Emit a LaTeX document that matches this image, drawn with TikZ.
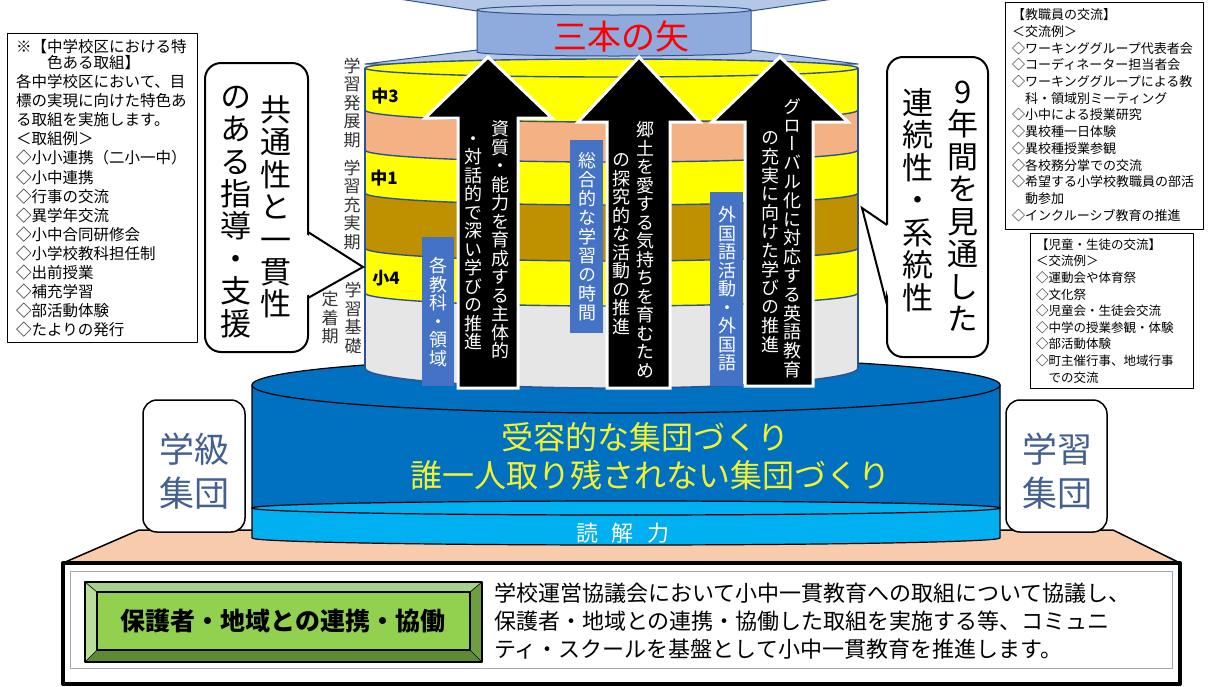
\documentclass[tikz,border=0pt]{standalone}
\usepackage{fontspec}
\setmainfont{Noto Sans CJK JP}
\newfontfamily\vjp[RawFeature=+vert]{Noto Sans CJK JP}
\definecolor{cyl}{HTML}{2F528F}
\definecolor{yel}{HTML}{FFFF00}
\definecolor{salm}{HTML}{F4B183}
\definecolor{brn}{HTML}{BF9000}
\definecolor{lgray}{HTML}{E7E6E6}
\definecolor{bbox}{HTML}{4472C4}
\definecolor{drum}{HTML}{8FAADC}
\definecolor{drumtop}{HTML}{B4C7E7}
\definecolor{dblue}{HTML}{0070C0}
\definecolor{lblue}{HTML}{00B0F0}
\definecolor{pinkb}{HTML}{F8CBAD}
\definecolor{grpc}{HTML}{44608F}
\definecolor{ytxt}{HTML}{F2F230}
\definecolor{labgray}{HTML}{333333}
\definecolor{bevT}{HTML}{A9D18E}
\definecolor{bevL}{HTML}{BBDD9A}
\definecolor{bevB}{HTML}{5E8A35}
\definecolor{bevR}{HTML}{6F9E40}
\definecolor{face}{HTML}{92D050}
\newdimen\vgap
\makeatletter
\def\vcol#1{\vbox{\offinterlineskip\vcol@#1\relax\unskip}}
\def\vcol@#1{\ifx#1\relax\else\hbox to 1em{\vrule height .88em depth .12em width 0pt\hss#1\hss}\vskip\vgap\relax\expandafter\vcol@\fi}
\makeatother
\newcommand\vt[2][1pt]{\vgap=#1\relax\vcol{#2}}
\begin{document}
\begin{tikzpicture}[x=1pt,y=-1pt,line join=round,
  vw/.style={inner sep=0pt,text=white,font=\vjp\fontsize{18}{18}\selectfont},
  vlab/.style={inner sep=0pt,text=labgray,font=\vjp\fontsize{17}{17}\selectfont},
  vbig/.style={inner sep=0pt,text=black,font=\vjp\fontsize{31}{31}\selectfont},
  layer/.style={inner sep=0pt,font=\bfseries\fontsize{17}{17}\selectfont},
  bluebox/.style={fill=bbox,draw=none},
  arrowshape/.style={fill=black,draw=white,line width=3pt,line join=miter},
  band/.style={draw=cyl,line width=1.4pt},
  listbox/.style={draw=black,line width=0.8pt,fill=white},
  listtxt/.style={anchor=north west,inner sep=0pt,align=left},
  grp/.style={fill=white,draw=black,line width=1.5pt,rounded corners=14pt},
  grptxt/.style={text=grpc,font=\fontsize{35}{35}\selectfont,inner sep=0pt},
  callout/.style={fill=white,draw=black,line width=2pt,rounded corners=16pt},
  bottxt/.style={anchor=west,inner sep=0pt,font=\fontsize{22}{22}\selectfont}
]
\useasboundingbox (0,0) rectangle (1208,686);
\fill[white] (0,0) rectangle (1208,686);

% platform
\filldraw[fill=pinkb,draw=black,line width=1.5pt] (139,530) -- (1113,530) -- (1180,563) -- (63,563) -- cycle;
\filldraw[fill=white,draw=black,line width=4pt] (63,563) rectangle (1180,684);
\draw[gray!70,line width=0.8pt] (70,571) rectangle (1172,668);

% green bevel box
\fill[bevT] (85,582) -- (482,582) -- (470,592) -- (97,592) -- cycle;
\fill[bevB] (85,662) -- (482,662) -- (470,650) -- (97,650) -- cycle;
\fill[bevL] (85,582) -- (97,592) -- (97,650) -- (85,662) -- cycle;
\fill[bevR] (482,582) -- (470,592) -- (470,650) -- (482,662) -- cycle;
\draw[black,line width=0.6pt] (85,582) -- (97,592) (482,582) -- (470,592) (85,662) -- (97,650) (482,662) -- (470,650);
\filldraw[fill=face,draw=black,line width=2pt] (97,592) rectangle (470,650);
\draw[black,line width=1.5pt] (85,582) rectangle (482,662);
\node[inner sep=0pt,font=\bfseries\fontsize{25}{25}\selectfont] (kyodo) at (283,621) {保護者・地域との連携・協働};

\node[bottxt] (d1) at (494,593) {学校運営協議会において小中一貫教育への取組について協議し、};
\node[bottxt] (d2) at (494,621) {保護者・地域との連携・協働した取組を実施する等、コミュニ};
\node[bottxt] (d3) at (494,649) {ティ・スクールを基盤として小中一貫教育を推進します。};

% blue cylinder
\filldraw[fill=dblue,draw=black,line width=1.2pt] (252,385) -- (252,508) arc[start angle=180,end angle=0,x radius=374,y radius=7] -- (1000,385) -- cycle;
\filldraw[fill=dblue,draw=black,line width=1.2pt] (626,385) ellipse[x radius=374,y radius=28];
\filldraw[fill=lblue,draw=black,line width=1.2pt] (252,508) -- (252,538) arc[start angle=180,end angle=0,x radius=374,y radius=7] -- (1000,508) -- cycle;
\filldraw[fill=lblue,draw=black,line width=1.2pt] (626,508) ellipse[x radius=374,y radius=7];
\node[inner sep=0pt,text=ytxt,font=\fontsize{32}{32}\selectfont] (juyou) at (645,437) {受容的な集団づくり};
\node[inner sep=0pt,text=ytxt,font=\fontsize{32}{32}\selectfont] (dare) at (650,475) {誰一人取り残されない集団づくり};
\node[inner sep=0pt,text=white,font=\fontsize{22}{22}\selectfont] (dokkai) at (623,533) {読\hspace{14pt}解\hspace{14pt}力};

% group boxes
\draw[grp] (143,400) rectangle (245,532);
\node[grptxt] (gk1) at (194,449) {学級};
\node[grptxt] (gk2) at (194,493) {集団};
\draw[grp] (1006,400) rectangle (1107,532);
\node[grptxt] (gs1) at (1057,449) {学習};
\node[grptxt] (gs2) at (1057,493) {集団};

% top funnel and drum
\filldraw[fill=drumtop,draw=cyl,line width=1pt] (386,-3) -- (847,-3) -- (751,11) -- (477,11) -- cycle;
\filldraw[fill=drumtop,draw=cyl,line width=1pt] (477,50) -- (751,50) -- (858,64) -- (365,64) -- cycle;
\filldraw[fill=drum,draw=cyl,line width=1pt] (477,10) -- (477,52) arc[start angle=180,end angle=0,x radius=137,y radius=4] -- (751,10) -- cycle;
\filldraw[fill=drumtop,draw=cyl,line width=1pt] (614,10) ellipse[x radius=137,y radius=5];
\node[inner sep=0pt,text=red,font=\fontsize{34}{34}\selectfont] (sanbon) at (621,37) {三本の矢};

% layered cylinder
\fill[lgray] (365,293) -- (365,368) arc[start angle=180,end angle=0,x radius=246.5,y radius=20] -- (858,293) -- cycle;
\fill[yel] (365,248) -- (365,293) arc[start angle=180,end angle=0,x radius=246.5,y radius=13] -- (858,248) -- cycle;
\fill[brn] (365,193) -- (365,248) arc[start angle=180,end angle=0,x radius=246.5,y radius=13] -- (858,193) -- cycle;
\fill[yel] (365,150) -- (365,193) arc[start angle=180,end angle=0,x radius=246.5,y radius=12] -- (858,150) -- cycle;
\fill[salm] (365,110) -- (365,150) arc[start angle=180,end angle=0,x radius=246.5,y radius=12] -- (858,110) -- cycle;
\fill[yel] (365,68) -- (365,110) arc[start angle=180,end angle=0,x radius=246.5,y radius=12] -- (858,68) -- cycle;
\draw[band] (365,110) arc[start angle=180,end angle=0,x radius=246.5,y radius=12];
\draw[band] (365,150) arc[start angle=180,end angle=0,x radius=246.5,y radius=12];
\draw[band] (365,193) arc[start angle=180,end angle=0,x radius=246.5,y radius=12];
\draw[band] (365,248) arc[start angle=180,end angle=0,x radius=246.5,y radius=13];
\draw[band] (365,293) arc[start angle=180,end angle=0,x radius=246.5,y radius=13];
\draw[band] (365,368) arc[start angle=180,end angle=0,x radius=246.5,y radius=20];
\draw[band] (365,68) -- (365,368) (858,68) -- (858,368);
\filldraw[fill=yel,draw=cyl,line width=1.4pt] (611.5,68) ellipse[x radius=246.5,y radius=9];

\node[layer] (n3) at (385,96) {中3};
\node[layer] (n1) at (384,178) {中1};
\node[layer] (s4) at (386,278) {小4};

% blue label boxes
\fill[bluebox] (422,237) rectangle (454,386);
\fill[bluebox] (570,140) rectangle (603,333);
\fill[bluebox] (710,192) rectangle (743,386);
\node[vw] (b1t) at (438,312) {\vt[0.5pt]{各教科・領域}};
\node[vw] (b2t) at (587,237) {\vt[1pt]{総合的な学習の時間}};
\node[vw] (b3t) at (727,289) {\vt[0.5pt]{外国語活動・外国語}};

% arrows
\filldraw[arrowshape] (488,57) -- (552,118) -- (518,118) -- (518,388) -- (458,388) -- (458,118) -- (425,118) -- cycle;
\filldraw[arrowshape] (639,57) -- (700,122) -- (670,122) -- (670,388) -- (607,388) -- (607,122) -- (578,122) -- cycle;
\filldraw[arrowshape] (780,57) -- (848,122) -- (813,122) -- (813,386) -- (745,386) -- (745,122) -- (712,122) -- cycle;
\node[vw] (t1a) at (500,240) {\vt[0.5pt]{資質・能力を育成する主体的}};
\node[vw] (t1b) at (473,240) {\vt[0.5pt]{・対話的で深い学びの推進}};
\node[vw] (t2a) at (645,250) {\vt[0.5pt]{郷土を愛する気持ちを育むため}};
\node[vw] (t2b) at (621,243) {\vt[0.5pt]{の探究的な活動の推進}};
\node[vw] (t3a) at (792,238) {\vt[0.8pt]{グローバル化に対応する英語教育}};
\node[vw] (t3b) at (770,241) {\vt[0.8pt]{の充実に向けた学びの推進}};

% period labels
\node[vlab] (l1) at (352,103) {\vt[1.5pt]{学習発展期}};
\node[vlab] (l2) at (352,205) {\vt[1.5pt]{学習充実期}};
\node[vlab] (l3) at (353,318) {\vt[1.5pt]{学習基礎}};
\node[vlab] (l4) at (330,318) {\vt[1.5pt]{定着期}};

% left callout
\draw[callout] (205,63) rectangle (308,352);
\fill[white] (305,233.5) -- (362,267) -- (305,296.5) -- cycle;
\draw[black,line width=2pt,line join=miter] (308,232) -- (363,267) -- (308,298);
\node[vbig] (c1a) at (276,207) {\vt[1.4pt]{共通性と一貫性}};
\node[vbig] (c1b) at (236,210) {\vt[1.4pt]{のある指導・支援}};

% right callout
\draw[callout] (887,57) rectangle (988,357);
\fill[white] (890,226.5) -- (863,208) -- (890,303.5) -- cycle;
\draw[black,line width=2pt,line join=miter] (887,225) -- (862,208) -- (887,305);
\node[vbig] (c2a) at (963,205) {\vt[1.5pt]{9年間を見通した}};
\node[vbig] (c2b) at (918,200) {\vt[1.5pt]{連続性・系統性}};

% text boxes
\draw[listbox] (7,33) rectangle (197,342);
\node[listtxt,font=\fontsize{15.5}{19.1}\selectfont] (ltext) at (16,39) {※【中学校区における特\\[-3pt]
\hspace*{2em}色ある取組】\\
各中学校区において、目\\
標の実現に向けた特色あ\\
る取組を実施します。\\
＜取組例＞\\
◇小小連携（二小一中）\\
◇小中連携\\
◇行事の交流\\
◇異学年交流\\
◇小中合同研修会\\
◇小学校教科担任制\\
◇出前授業\\
◇補充学習\\
◇部活動体験\\
◇たよりの発行};

\draw[listbox] (1005,2) rectangle (1203,229);
\node[listtxt,font=\fontsize{13}{16.7}\selectfont] (rtext) at (1012,8.5) {【教職員の交流】\\
＜交流例＞\\
◇ワーキンググループ代表者会\\
◇コーディネーター担当者会\\
◇ワーキンググループによる教\\
\hspace*{1em}科・領域別ミーティング\\
◇小中による授業研究\\
◇異校種一日体験\\
◇異校種授業参観\\
◇各校務分掌での交流\\
◇希望する小学校教職員の部活\\
\hspace*{1em}動参加\\
◇インクルーシブ教育の推進};

\draw[listbox] (1030,233) rectangle (1193,388);
\node[listtxt,font=\fontsize{12.5}{16.6}\selectfont] (r2text) at (1036,238.5) {【児童・生徒の交流】\\
＜交流例＞\\
◇運動会や体育祭\\
◇文化祭\\
◇児童会・生徒会交流\\
◇中学の授業参観・体験\\
◇部活動体験\\
◇町主催行事、地域行事\\
\hspace*{1em}での交流};
\end{tikzpicture}
\end{document}
